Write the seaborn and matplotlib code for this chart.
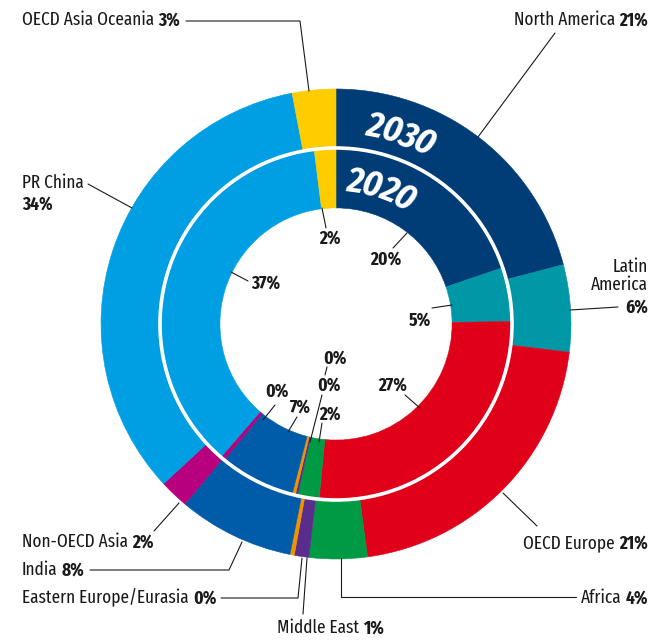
import numpy as np
import seaborn as sns
import matplotlib.pyplot as plt

# data: shares by region, clockwise from 12 o'clock
regions = ["North America", "Latin America", "OECD Europe", "Africa", "Middle East",
           "Eastern Europe/Eurasia", "India", "Non-OECD Asia", "PR China", "OECD Asia Oceania"]
share_2030 = [21, 6, 21, 4, 1, 0.3, 8, 2, 34, 3]
share_2020 = [20, 5, 27, 2, 0.2, 0.3, 7, 0.4, 37, 2]
pct_2030 = ["21%", "6%", "21%", "4%", "1%", "0%", "8%", "2%", "34%", "3%"]
pct_2020 = ["20%", "5%", "27%", "2%", "0%", "0%", "7%", "0%", "37%", "2%"]
region_colors = ["#003c76", "#0098a6", "#e1001a", "#009a44", "#5a2d8c",
                 "#f39200", "#005ca9", "#b8007e", "#009fe3", "#ffcc00"]

sns.set_theme(style="white")
plt.rcParams["font.family"] = ["Fira Sans Extra Condensed", "Fira Sans Condensed", "DejaVu Sans"]
plt.rcParams["font.stretch"] = "condensed"
palette = sns.color_palette(region_colors)

# pixel helper: ring centre and outer radius in the 664x642 canvas
R, CX, CY = 235, 336, 324


def P(x, y):
    return (x - CX) / R, (CY - y) / R


fig = plt.figure(figsize=(6.64, 6.42), dpi=100)
ax = fig.add_axes([0, 0, 1, 1])

wp = dict(linewidth=0.4)
outer, _ = ax.pie(share_2030, radius=1.0, colors=palette, startangle=90,
                  counterclock=False, wedgeprops=dict(width=0.251, **wp))
inner, _ = ax.pie(share_2020, radius=0.749, colors=palette, startangle=90,
                  counterclock=False, wedgeprops=dict(width=0.255, **wp))
for w in outer + inner:
    w.set_edgecolor(w.get_facecolor())

# white separator between rings
ax.add_patch(plt.Circle((0, 0), 0.749, fill=False, color="white", lw=2.6, zorder=5))

ax.set_xlim(P(0, 0)[0], P(664, 0)[0])
ax.set_ylim(P(0, 642)[1], P(0, 0)[1])
ax.set_aspect("equal")
ax.axis("off")


def arc_text(text, r, mid_deg, step_deg, size):
    n = len(text)
    for i, ch in enumerate(text):
        a = mid_deg + (n - 1) / 2 * step_deg - i * step_deg
        ax.text(r * np.cos(np.radians(a)), r * np.sin(np.radians(a)), ch,
                rotation=a - 90, rotation_mode="anchor", ha="center", va="center",
                color="white", fontsize=size, fontweight="bold", style="italic",
                family=["Fira Sans Condensed", "DejaVu Sans"], zorder=6)


arc_text("2030", 0.855, 71.5, 5.0, 26)
arc_text("2020", 0.609, 72.0, 7.0, 26)

FS = 13.5
INK = "#1a1a1a"


def name_pct(x, y, name, pct, ha="left"):
    if ha == "left":
        t = ax.text(*P(x, y), name, ha="left", va="center", fontsize=FS, color=INK)
        ax.annotate(pct, xy=(1, 0.5), xycoords=t, xytext=(3, 0), textcoords="offset points",
                    ha="left", va="center", fontsize=FS, fontweight="bold", color=INK)
    else:
        t = ax.text(*P(x, y), pct, ha="right", va="center", fontsize=FS,
                    fontweight="bold", color=INK)
        ax.annotate(name, xy=(0, 0.5), xycoords=t, xytext=(-3, 0), textcoords="offset points",
                    ha="right", va="center", fontsize=FS, color=INK)


def leader(*pts):
    xs, ys = zip(*[P(x, y) for x, y in pts])
    ax.plot(xs, ys, color=INK, lw=0.8, zorder=7)


# outer ring (2030) labels
name_pct(22, 20, regions[9], pct_2030[9])
leader((186, 21), (300, 21), (309, 91))
name_pct(648, 20, regions[0], pct_2030[0], ha="right")
leader((555, 33), (478, 137))
ax.text(*P(648, 276), "Latin\nAmerica", ha="right", va="center", fontsize=FS,
        color=INK, linespacing=1.05)
ax.text(*P(648, 307), pct_2030[1], ha="right", va="center", fontsize=FS,
        fontweight="bold", color=INK)
leader((570, 310), (618, 307))
name_pct(648, 543, regions[2], pct_2030[2], ha="right")
leader((503, 493), (537, 526))
name_pct(648, 598, regions[3], pct_2030[3], ha="right")
leader((341, 558), (341, 597), (576, 597))
name_pct(277, 628, regions[4], pct_2030[4])
leader((307, 558), (303, 614))
name_pct(22, 598, regions[5], pct_2030[5])
leader((221, 598), (298, 598), (302, 558))
name_pct(22, 570, regions[6], pct_2030[6])
leader((90, 570), (229, 570), (242, 542))
name_pct(22, 542, regions[7], pct_2030[7])
leader((154, 531), (179, 503))
ax.text(*P(22, 183), "PR China", ha="left", va="center", fontsize=FS, color=INK)
ax.text(*P(22, 204), pct_2030[8], ha="left", va="center", fontsize=FS,
        fontweight="bold", color=INK)
leader((88, 184), (132, 208))

# inner ring (2020) labels: (index, text centre, leader)
inner_spots = [
    (9, (330, 238), [(322, 208), (326, 228)]),
    (0, (386, 259), [(393, 248), (407, 233)]),
    (1, (420, 320), [(432, 308), (452, 305)]),
    (2, (393, 385), [(405, 395), (420, 408)]),
    (8, (266, 283), [(231, 272), (248, 281)]),
    (7, (277, 391), [(275, 405), (263, 420)]),
    (6, (300, 407), [(297, 417), (288, 432)]),
    (4, (335, 358), [(327, 367), (325, 375)]),
    (5, (329, 385), [(322, 395), (310, 442)]),
    (3, (330, 414), [(322, 423), (319, 442)]),
]
for i, (tx, ty), pts in inner_spots:
    ax.text(*P(tx, ty), pct_2020[i], ha="center", va="center", fontsize=FS,
            fontweight="bold", color=INK, zorder=8)
    leader(*pts)

plt.savefig("out.png", dpi=100)
plt.close()
